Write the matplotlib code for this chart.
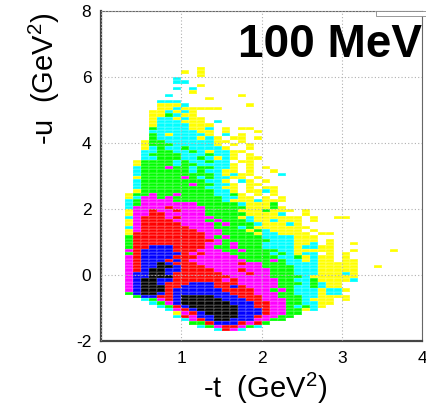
import numpy as np
import matplotlib
matplotlib.use("Agg")
import matplotlib.pyplot as plt
from matplotlib.colors import ListedColormap, BoundaryNorm
from matplotlib.patches import Rectangle

plt.rcParams['font.family'] = ['Liberation Sans', 'DejaVu Sans']
plt.rcParams['mathtext.default'] = 'regular'

# histogram bins: -t from 0.3 to 3.8, -u from -1.7 to 6.3 (0.1 wide)
x_bins = np.linspace(0.3, 3.8, 36)
y_bins = np.linspace(-1.7, 6.3, 81)

# colour level of each cell, top row first (0 = empty, 1 = yellow ... 7 = black)
rows = [
    ".........1",
    ".......1.1",
    ".........1",
    "......2",
    "......22",
    ".........1",
    "......2.2",
    "........1",
    ".....2........1",
    "..........1",
    "....222",
    "....1112.......1",
    "....11211111",
    "...112121",
    "...113211",
    "...1221211",
    "...1222111.2",
    "...12222111",
    "...32222112.1.11",
    "...22222211.1...1",
    "...32122221.2.1",
    "...322222121.11.1",
    "..13322222211.1",
    "..1333222221.1.1",
    "..12322322221..1",
    "..2233223212211",
    "..233332223221.1",
    "..223332232121.11",
    ".133332322322.11",
    ".1333323322221.1",
    ".2333433233221.1.1",
    ".2333333232211.1..1",
    ".233333333321211...2",
    ".13333343232211.1",
    ".233333333221.21.1",
    ".2333333433221.11",
    ".2333333332211.1.11",
    ".1333333333221.1121",
    "133433433332231.1.1",
    "1244343333332211.1.1",
    "23444433333321112111",
    "2344444443333321113",
    "24444544443333311131",
    "144544544433331113111.1",
    "14455444443333311112..1",
    "2455545444433312111111.1..11",
    "1455554444343332112111.1",
    "1455555444434333211121",
    "24555555444333231111111",
    "1455555554443331321111.1",
    "15555555554433331221111.11",
    "355555555543433332222111",
    "355555555554333333222111.1",
    "355555555544343332222112.1..1",
    "35566655554334333222212211",
    "45666655544433433332211111..1....1",
    "356666654544433333232122.1.1",
    "45666655544444333332231211.1",
    "45666565444444433343221211.11",
    "45667655544444544333222211111",
    "45667765554444444333322211111..1",
    "45677665555444544433322211111",
    "46677655555544454433322211121",
    "46677755555554444433332111111",
    "46776655555545444443322311112",
    "467765556665554444433323211",
    "467775566665565444433223211",
    "4677756666665555443432221221",
    "367765666666655544433222122",
    ".366556777766655544333221111",
    "..234567777766655444332111.1",
    "...23467777776665544332211",
    "....235677777766554432321",
    ".....2456777776665443312",
    "......1456777766654433",
    "......254667776654433",
    ".......2456776664433",
    "........3356665453",
    ".........23455432",
    "...........2542",
]

level_colors = ['#ffff00', '#00ffff', '#00ff00', '#ff00ff', '#ff0000', '#0000ff', '#000000']

x_ticks = [0, 1, 2, 3, 4]
y_ticks = [-2, 0, 2, 4, 6, 8]

ncol = len(x_bins) - 1
z = np.array([[0 if ch == '.' else int(ch) for ch in r.ljust(ncol, '.')] for r in rows], dtype=float)
z = np.ma.masked_equal(z[::-1], 0)

fig = plt.figure(figsize=(4.27, 4.05), dpi=100)
ax = fig.add_axes([101 / 427, 1 - 341 / 405, 321.5 / 427, 330 / 405])

cmap = ListedColormap(level_colors)
norm = BoundaryNorm(np.arange(0.5, 8.5, 1.0), cmap.N)
ax.pcolormesh(x_bins, y_bins, z, cmap=cmap, norm=norm,
              edgecolors=(1, 1, 1, 0.12), linewidth=0.3)

ax.set_xlim(0, 4)
ax.set_ylim(-2, 8)
ax.set_xticks(x_ticks)
ax.set_yticks(y_ticks)
ax.set_xticklabels([str(t) for t in x_ticks], fontsize=12.5)
ax.set_yticklabels([str(t) for t in y_ticks], fontsize=12.5)
ax.tick_params(length=0, pad=7)
ax.set_axisbelow(False)
ax.grid(True, linestyle=(0, (1, 2)), color='#b0b0b0', linewidth=0.8)

for side in ['left', 'bottom']:
    ax.spines[side].set_linewidth(1.6)
    ax.spines[side].set_color('#444444')
for side in ['top', 'right']:
    ax.spines[side].set_linewidth(0.8)
    ax.spines[side].set_color('#666666')

fig.text(265 / 427, 1 - 388 / 405, '-t  (GeV$^{2}$)', fontsize=21,
         ha='center', va='center')
fig.text(44 / 427, 1 - 79 / 405, '-u  (GeV$^{2}$)', fontsize=21,
         ha='center', va='center', rotation=90)
fig.text(422 / 427, 1 - 45 / 405, '100 MeV', fontsize=33, fontweight='bold',
         ha='right', va='center')

# little stat box at the top right corner
fig.patches.append(Rectangle((376 / 427, 1 - 16 / 405), 51 / 427, 5 / 405,
                             transform=fig.transFigure, facecolor='white',
                             edgecolor='#888888', linewidth=0.6))

fig.savefig('out.png', dpi=100)
